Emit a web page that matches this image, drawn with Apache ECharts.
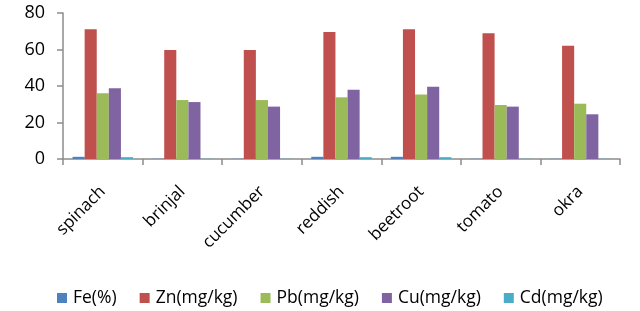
<!DOCTYPE html>
<html>
<head>
<meta charset="utf-8">
<script src="https://cdn.jsdelivr.net/npm/echarts@6/dist/echarts.min.js"></script>
<style>
  html, body { margin: 0; padding: 0; background: #fff; }
  #chart { width: 640px; height: 311px; }
</style>
</head>
<body>
<div id="chart"></div>
<script>
const vegetables = ['spinach', 'brinjal', 'cucumber', 'reddish', 'beetroot', 'tomato', 'okra']

const fe = [1.2, 0.1, 0.1, 1.2, 1.2, 0.1, 0.1]
const zn = [71.1, 59.7, 59.7, 69.6, 71.1, 68.9, 62.1]
const pb = [36.0, 32.3, 32.3, 33.8, 35.4, 29.6, 30.3]
const cu = [38.7, 31.2, 28.7, 38.0, 39.6, 28.7, 24.5]
const cd = [1.0, 0.1, 0.1, 1.0, 1.0, 0.1, 0.1]

const yTicks = [0, 20, 40, 60, 80]

const font = '"Open Sans", "Noto Sans", sans-serif'

const bar = (name, data, color) => ({
  name,
  type: 'bar',
  data,
  barGap: '0%',
  barCategoryGap: '24%',
  itemStyle: { color }
})

const chart = echarts.init(document.getElementById('chart'))

chart.setOption({
  backgroundColor: '#fff',
  animation: false,
  grid: { left: 63, right: 20, top: 13, bottom: 152, containLabel: false },
  xAxis: {
    type: 'category',
    data: vegetables,
    axisLine: { lineStyle: { color: '#8c8c8c', width: 1.5 } },
    axisTick: { show: true, length: 6, lineStyle: { color: '#8c8c8c', width: 1.5 } },
    axisLabel: {
      rotate: 45,
      margin: 30,
      color: '#000',
      fontSize: 17,
      fontFamily: font
    }
  },
  yAxis: {
    type: 'value',
    min: yTicks[0],
    max: yTicks[yTicks.length - 1],
    interval: 20,
    axisLine: { show: true, lineStyle: { color: '#8c8c8c', width: 1.5 } },
    axisTick: { show: true, length: 6, lineStyle: { color: '#8c8c8c', width: 1.5 } },
    splitLine: { show: false },
    axisLabel: { color: '#000', fontSize: 18, fontFamily: font, margin: 18 }
  },
  legend: {
    top: 284,
    left: 52,
    itemWidth: 10,
    itemHeight: 10,
    itemGap: 23,
    icon: 'rect',
    textStyle: { color: '#000', fontSize: 17.5, fontFamily: font, padding: [0, 0, 0, 1] }
  },
  series: [
    bar('Fe(%)', fe, '#4F81BD'),
    bar('Zn(mg/kg)', zn, '#C0504D'),
    bar('Pb(mg/kg)', pb, '#9BBB59'),
    bar('Cu(mg/kg)', cu, '#8064A2'),
    bar('Cd(mg/kg)', cd, '#4BACC6')
  ]
})
</script>
</body>
</html>
